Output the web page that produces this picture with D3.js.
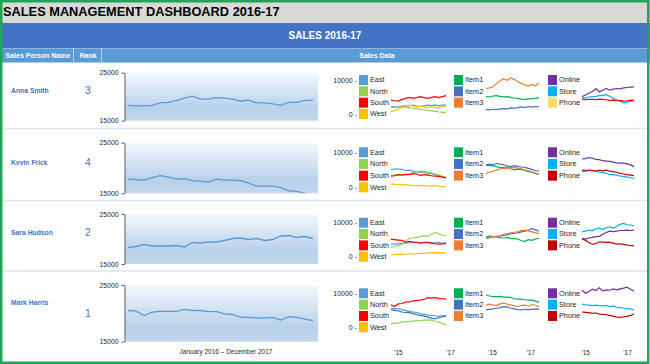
<!DOCTYPE html>
<html>
<head>
<meta charset="utf-8">
<script src="https://cdn.jsdelivr.net/npm/d3@7"></script>
<style>
  body { margin: 0; background: #fff; }
  svg { display: block; font-family: "Liberation Sans", Arial, sans-serif; }
</style>
</head>
<body>
<div id="dash"></div>
<script>
// ---- data ----
var people = ["Anna Smith", "Kevin Frick", "Sara Hudson", "Mark Harris"];
var ranks = [3, 4, 2, 1];

// monthly total sales, Jan 2016 - Dec 2017
var totalSales = [
  [18200,18100,18100,18200,18700,18800,19200,19700,20100,19500,19500,19800,19700,19500,19100,19300,18700,18700,18500,18200,18800,18800,19200,19300],
  [17800,17700,17600,18100,18500,18200,17800,17900,17500,17400,17200,17800,17600,17600,17500,17000,16400,16400,16400,16100,15500,15400,15000,14500],
  [18300,18500,18900,18600,18600,18600,18700,18400,19300,19200,19400,19400,19700,20100,20200,19900,20100,19700,19900,20600,20700,20300,20500,20100],
  [20500,20400,19600,20200,20350,20350,20350,20700,20500,20500,20300,20300,19900,19800,19300,19300,19200,19200,19300,18800,19400,19300,19000,18700]
];

var regions = ["East", "North", "South", "West"];
var items = ["Item1", "Item2", "Item3"];
var channels = ["Online", "Store", "Phone"];

// per person: East, North, South, West
var regionSales = [
  [
    [2100,2200,2000,2300,2500,2400,2600,2300,2200,2400,2600,2500,2700,2400,2600,2700],
    [1900,2000,1900,2100,2000,1800,1700,1500,1400,1200,1100,900,800,600,500,400],
    [4100,3900,3800,4300,4600,4900,4600,4800,5100,4800,4600,4900,5100,4800,5100,5400],
    [700,1000,1400,1900,2300,2600,2400,2000,2300,2100,1800,2200,2000,1700,2200,2300]
  ],
  [
    [5000,5300,5200,5100,4800,4900,4600,4500,4200,4300,4000,3900,3600,3500,3100,2800],
    [3400,3500,3600,3600,3700,3800,4200,4400,4700,4600,4300,4100,3800,3500,3100,2600],
    [3200,3300,3600,3500,3700,3600,3900,3800,3400,3600,3500,3300,3200,3100,2900,2700],
    [900,850,800,700,750,600,500,450,550,500,400,350,450,300,200,100]
  ],
  [
    [3800,3700,3800,3900,4000,4100,4200,4200,4100,4300,4200,4000,4100,4200,3900,4100],
    [2800,3000,3300,3600,4500,5400,5500,5700,5900,6200,6000,6600,7100,6700,6300,6200],
    [5100,5000,4900,4800,4300,4500,4300,4200,4000,4100,4200,4000,3800,3700,3800,3900],
    [500,600,700,650,750,800,850,900,1000,950,1100,1150,1200,1100,1200,1000]
  ],
  [
    [5600,5500,5400,5200,5000,4700,4500,4300,4000,3800,3600,3500,3400,3200,3400,3500],
    [1100,1200,1300,1500,1600,1700,1800,1900,2000,2100,2200,2100,1700,1600,1100,700],
    [6600,6100,6900,7000,7400,7500,7800,7900,8000,8200,8700,8600,8700,8500,8400,8300],
    [5200,5000,4800,4500,4400,4300,4000,3700,3500,3300,3000,2700,2500,2800,3100,3200]
  ]
];

// per person: Item1, Item2, Item3
var itemSales = [
  [
    [5100,5000,5300,5400,5200,5000,5100,4900,4700,4600,4400,4300,4400,4500,4600,4800],
    [1300,1200,1400,1300,1500,1600,1500,1800,1700,1900,2100,1900,2200,2000,2200,2100],
    [7500,7700,8000,9000,9800,10400,9900,10600,10200,9500,9000,8600,8200,8700,8300,9100]
  ],
  [
    [6300,6200,6100,5900,5600,5700,5800,5300,5000,5200,5100,4800,4500,4300,4000,3700],
    [6500,6600,6400,6800,6600,6500,6100,5900,6200,6000,5800,5700,5400,5100,4800,4600],
    [3900,4300,4600,4900,5300,5500,5300,5600,5700,5500,5300,5000,4700,4400,4100,3700]
  ],
  [
    [5800,6100,5900,5800,5600,5500,5700,5400,5300,5200,4700,4500,5000,4800,5200,5400],
    [5300,5600,5800,6000,6100,6300,6400,6700,6900,7000,7300,7500,7800,8300,7900,7500],
    [5400,5700,6000,5800,6200,6600,6800,7000,7200,7400,7700,7800,7600,7300,7000,6900]
  ],
  [
    [9500,9200,9000,9000,9100,8900,8900,8800,8400,8300,8300,8100,8000,8000,7700,7400],
    [5100,5300,5400,5600,5800,6100,6000,5600,5400,5200,5100,5300,5200,5300,5400,5300],
    [6500,6800,6600,6400,6900,7100,6800,6600,6300,6100,6400,6500,6200,6700,6500,6000]
  ]
];

// per person: Online, Store, Phone
var channelSales = [
  [
    [5100,5600,6100,6600,7500,6500,7000,7500,7000,7300,7500,7400,7700,7800,7900,8000],
    [4800,4700,5000,5100,5200,5400,5500,5700,5200,4600,4200,3800,3300,3500,3700,4000],
    [4400,4200,4300,4300,4200,4400,4300,4200,4000,4100,3900,4000,3800,3900,4100,4000]
  ],
  [
    [8100,8200,8500,8300,8000,7900,7600,7500,7400,7200,7000,6900,6900,6700,6400,5900],
    [5000,4900,4800,4700,4600,4300,4200,4000,3700,3600,3500,3200,3100,2900,2800,2500],
    [4700,4600,4900,4800,4600,4900,4700,4900,4600,4500,4300,4000,3800,3600,3500,3300]
  ],
  [
    [5300,5200,5500,5700,5900,6000,6600,7100,7500,7400,7500,7700,7700,7800,7700,7800],
    [7300,7500,7800,7600,8200,8400,8000,8600,8800,8400,8900,9500,9800,9400,9300,9100],
    [5300,4800,4200,3600,3900,4400,4300,4200,4300,4000,3700,3800,3600,3400,3300,3200]
  ],
  [
    [10900,10000,10500,11200,10800,11600,10700,11000,10900,11300,11000,11300,11500,11800,11200,10600],
    [6800,6600,6500,6400,6500,6400,6300,6400,6100,6200,5900,5800,5600,5500,5400,5100],
    [4500,4400,4300,4100,4200,3900,3800,3700,3500,3300,3000,2900,3100,3200,3500,3900]
  ]
];

var mainTicks = [15000, 25000];
var sparkTicks = [0, 10000];
var yearTicks = ["'15", "'17"];
var yearTickIdx = [[1.9, 16.1], [1.7, 12.5], [0.9, 13]];

// ---- styles / layout ----
var regionColors = ["#5b9bd5", "#92d050", "#ff0000", "#ffc000"];
var itemColors = ["#00b050", "#4472c4", "#ed7d31"];
var channelColors = ["#7030a0", "#00b0f0", "#c00000"];

var width = 650, height = 364;
var rows = [
  { top: 62,  bottom: 128.5, mainTop: 72.7, mainBot: 120.7, sTop: 80,    sZero: 114,   nameY: 91,  rankY: 91 },
  { top: 129, bottom: 200.5, mainTop: 142.7, mainBot: 193.3, sTop: 152.3, sZero: 187.3, nameY: 163, rankY: 163 },
  { top: 201, bottom: 271,   mainTop: 214,  mainBot: 264,   sTop: 222.7, sZero: 256.7, nameY: 233, rankY: 233 },
  { top: 272, bottom: 361,   mainTop: 285,  mainBot: 341.7, sTop: 293.3, sZero: 327.3, nameY: 303, rankY: 314 }
];
var groups = [
  { sw: 359, x0: 391, x1: 446, names: regions, colors: regionColors, data: regionSales },
  { sw: 454, x0: 486, x1: 539, names: items, colors: itemColors, data: itemSales },
  { sw: 548, x0: 582, x1: 634, names: channels, colors: channelColors, data: channelSales }
];

var svg = d3.select("#dash").append("svg")
  .attr("width", width)
  .attr("height", height);

var defs = svg.append("defs");
var grad = defs.append("linearGradient")
  .attr("id", "plotGrad")
  .attr("x1", 0).attr("y1", 0).attr("x2", 0).attr("y2", 1);
grad.append("stop").attr("offset", "0%").attr("stop-color", "#f6f9fd");
grad.append("stop").attr("offset", "75%").attr("stop-color", "#b8d0ea");
grad.append("stop").attr("offset", "100%").attr("stop-color", "#c3d8ee");

// title bar + header bands
svg.append("rect").attr("x", 0).attr("y", 0).attr("width", width).attr("height", 23).attr("fill", "#d9d9d9");
svg.append("text")
  .attr("x", 3).attr("y", 12.5)
  .attr("dominant-baseline", "middle")
  .attr("font-size", 12.8).attr("font-weight", "bold").attr("fill", "#000")
  .text("SALES MANAGEMENT DASHBOARD 2016-17");

svg.append("rect").attr("x", 0).attr("y", 23).attr("width", width).attr("height", 25).attr("fill", "#4472c4");
svg.append("text")
  .attr("x", 325).attr("y", 36)
  .attr("text-anchor", "middle").attr("dominant-baseline", "middle")
  .attr("font-size", 10).attr("font-weight", "bold").attr("fill", "#fff")
  .text("SALES 2016-17");

svg.append("rect").attr("x", 0).attr("y", 48).attr("width", width).attr("height", 14.5).attr("fill", "#5b9bd5");
svg.append("line").attr("x1", 0).attr("x2", width).attr("y1", 48.5).attr("y2", 48.5).attr("stroke", "#8fb4e3");
[73.5, 101.5].forEach(function(x) {
  svg.append("line").attr("x1", x).attr("x2", x).attr("y1", 48).attr("y2", 62.5)
    .attr("stroke", "#bdd7ee").attr("stroke-width", 1);
});
var headers = [["Sales Person Name", 38], ["Rank", 88], ["Sales Data", 377]];
headers.forEach(function(h) {
  svg.append("text")
    .attr("x", h[1]).attr("y", 56)
    .attr("text-anchor", "middle").attr("dominant-baseline", "middle")
    .attr("font-size", 7).attr("font-weight", "bold").attr("fill", "#fff")
    .text(h[0]);
});

// row separators
rows.slice(0, 3).forEach(function(r) {
  svg.append("line").attr("x1", 0).attr("x2", width).attr("y1", r.bottom).attr("y2", r.bottom)
    .attr("stroke", "#dbe5f1").attr("stroke-width", 1.5);
});

var xMain = d3.scaleLinear().domain([0, 23]).range([128, 313]);

rows.forEach(function(r, i) {
  // name + rank
  svg.append("text")
    .attr("x", 11).attr("y", r.nameY)
    .attr("dominant-baseline", "middle")
    .attr("font-size", 6.8).attr("font-weight", "bold").attr("fill", "#4472c4")
    .text(people[i]);
  svg.append("text")
    .attr("x", 88).attr("y", r.rankY)
    .attr("text-anchor", "middle").attr("dominant-baseline", "middle")
    .attr("font-size", 10.5).attr("fill", "#4472c4")
    .text(ranks[i]);

  // main chart
  var y = d3.scaleLinear().domain([15000, 25000]).range([r.mainBot, r.mainTop]);
  svg.append("rect")
    .attr("x", 125).attr("y", r.mainTop)
    .attr("width", 193).attr("height", r.mainBot - r.mainTop)
    .attr("fill", "url(#plotGrad)");

  defs.append("clipPath").attr("id", "clip" + i)
    .append("rect").attr("x", 125).attr("y", r.mainTop)
    .attr("width", 193).attr("height", r.mainBot - r.mainTop);

  svg.append("path")
    .datum(totalSales[i])
    .attr("clip-path", "url(#clip" + i + ")")
    .attr("fill", "none")
    .attr("stroke", "#5b9bd5")
    .attr("stroke-width", 1.3)
    .attr("d", d3.line().x(function(d, k) { return xMain(k); }).y(function(d) { return y(d); }));

  var yAxis = svg.append("g")
    .attr("transform", "translate(124.5,0)")
    .call(d3.axisLeft(y).tickValues(mainTicks).tickSize(3).tickPadding(3).tickSizeOuter(0)
      .tickFormat(d3.format("d")));
  yAxis.select(".domain").attr("stroke", "#595959");
  yAxis.selectAll(".tick line").attr("stroke", "#595959");
  yAxis.selectAll("text").attr("font-size", 6.8).attr("fill", "#262626")
    .attr("font-family", "'Liberation Sans', Arial, sans-serif");

  // sparklines
  var ys = d3.scaleLinear().domain([0, 10000]).range([r.sZero, r.sTop]);
  var sAxis = svg.append("g")
    .attr("transform", "translate(357,0)")
    .call(d3.axisLeft(ys).tickValues(sparkTicks).tickSize(0).tickPadding(0)
      .tickFormat(function(d) { return d + " -"; }));
  sAxis.select(".domain").remove();
  sAxis.selectAll("text").attr("font-size", 7).attr("fill", "#262626")
    .attr("font-family", "'Liberation Sans', Arial, sans-serif");

  var step = (r.sZero - r.sTop) / 3;
  groups.forEach(function(g, gi) {
    var xs = d3.scaleLinear().domain([0, 15]).range([g.x0, g.x1]);
    var series = g.data[i];
    series.forEach(function(vals, si) {
      var swatch = g.colors[si];
      var lineCol = g.colors[si];
      if (gi === 2 && si === 2 && i === 0) { swatch = "#ffd966"; lineCol = "#ff0000"; }
      if (gi === 0 && si === 3 && i === 3) { lineCol = "#2e75b6"; }
      var cy = r.sTop + si * step;
      svg.append("rect")
        .attr("x", g.sw).attr("y", cy - 5)
        .attr("width", 9).attr("height", 10)
        .attr("fill", swatch);
      svg.append("text")
        .attr("x", g.sw + 11).attr("y", cy + 0.5)
        .attr("dominant-baseline", "middle")
        .attr("font-size", 7.3).attr("fill", "#262626")
        .text(g.names[si]);
      svg.append("path")
        .datum(vals)
        .attr("fill", "none")
        .attr("stroke", lineCol)
        .attr("stroke-width", 1.2)
        .attr("d", d3.line().x(function(d, k) { return xs(k); }).y(function(d) { return ys(d); }));
    });

    // year ticks under last row only
    if (i === rows.length - 1) {
      var xa = svg.append("g")
        .attr("transform", "translate(0,347)")
        .call(d3.axisBottom(xs).tickValues(yearTickIdx[gi]).tickSize(0).tickPadding(3)
          .tickFormat(function(d, k) { return yearTicks[k]; }));
      xa.select(".domain").remove();
      xa.selectAll("text").attr("font-size", 6.5).attr("fill", "#262626")
        .attr("font-family", "'Liberation Sans', Arial, sans-serif");
    }
  });
});

svg.append("text")
  .attr("x", 226).attr("y", 352)
  .attr("text-anchor", "middle").attr("dominant-baseline", "middle")
  .attr("font-size", 6.5).attr("fill", "#262626")
  .text("January 2016 \u2013 December 2017");

// outer green frame
svg.append("rect")
  .attr("x", 1.25).attr("y", 1.25)
  .attr("width", width - 3).attr("height", height - 2.5)
  .attr("fill", "none")
  .attr("stroke", "#1fa55a")
  .attr("stroke-width", 2.5);
</script>
</body>
</html>
